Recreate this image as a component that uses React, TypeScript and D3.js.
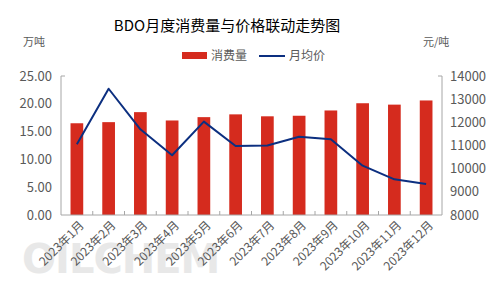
import React from "react";
import * as d3 from "d3";

const months = ["2023年1月","2023年2月","2023年3月","2023年4月","2023年5月","2023年6月","2023年7月","2023年8月","2023年9月","2023年10月","2023年11月","2023年12月"];
const consumption = [16.5, 16.7, 18.5, 17.0, 17.6, 18.1, 17.75, 17.85, 18.8, 20.1, 19.85, 20.6];
const price = [11050, 13450, 11700, 10580, 12030, 10980, 11000, 11380, 11270, 10130, 9540, 9340];
const leftTicks = [0, 5, 10, 15, 20, 25];
const rightTicks = [8000, 9000, 10000, 11000, 12000, 13000, 14000];

const W = 500, H = 285;
const L = 61, R = 442, T = 76, B = 215;
const FONT = "'Noto Sans CJK SC', 'Noto Sans', sans-serif";
const RED = "#d52b1e";
const BLUE = "#0c2f80";
const AXIS = "#a6a6a6";
const TXT = "#595959";

export default function App() {
  const x = d3.scaleBand<string>().domain(months).range([L, R]).paddingInner(0).paddingOuter(0);
  const yL = d3.scaleLinear().domain([0, 25]).range([B, T]);
  const yR = d3.scaleLinear().domain([8000, 14000]).range([B, T]);
  const bw = x.bandwidth() * 0.4;
  const line = d3.line<number>().x((_, i) => x(months[i])! + x.bandwidth() / 2).y(d => yR(d));
  return (
    <svg width={W} height={H} style={{ position: "absolute", left: 0, top: 0 }} fontFamily={FONT}>
      <rect width={W} height={H} fill="#fff" />
      <text x={22} y={273} fontSize={40} fontWeight="bold" fill="#e8e8e8" fontFamily="'DejaVu Sans', sans-serif" letterSpacing={-1}>OILCHEM</text>
      <text x={227} y={31} textAnchor="middle" fontSize={15} fill="#000">BDO月度消费量与价格联动走势图</text>
      <rect x={182} y={52} width={25} height={7} fill={RED} />
      <text x={211} y={60} fontSize={12} fill={TXT}>消费量</text>
      <line x1={259} x2={285} y1={56} y2={56} stroke={BLUE} strokeWidth={2} />
      <text x={289} y={60} fontSize={12} fill={TXT}>月均价</text>
      <text x={23} y={46} fontSize={11} fill={TXT}>万吨</text>
      <text x={423} y={46} fontSize={11} fill={TXT}>元/吨</text>
      {consumption.map((v, i) => (
        <rect key={i} x={x(months[i])! + (x.bandwidth() - bw) / 2} y={yL(v)} width={bw} height={B - yL(v)} fill={RED} />
      ))}
      <path d={line(price) || ""} fill="none" stroke={BLUE} strokeWidth={2} strokeLinejoin="round" />
      <path d={`M${L + 4},${T}H${L}V${B}H${R}V${T}H${R - 4}`} fill="none" stroke={AXIS} strokeWidth={1} />
      {months.slice(1).map(m => (
        <line key={m} x1={x(m)!} x2={x(m)!} y1={B} y2={B - 4} stroke={AXIS} />
      ))}
      {leftTicks.map(t => (
        <text key={t} x={52} y={yL(t) + 4.5} textAnchor="end" fontSize={13} fill={TXT}>{t.toFixed(2)}</text>
      ))}
      {rightTicks.map(t => (
        <text key={t} x={450} y={yR(t) + 4.5} fontSize={13} fill={TXT}>{t}</text>
      ))}
      {months.map(m => {
        const cx = x(m)! + x.bandwidth() / 2 + 5;
        const cy = B + 8;
        return (
          <text key={m} transform={`translate(${cx},${cy}) rotate(-45)`} textAnchor="end" dy="0.35em" fontSize={12} fill={TXT}>{m}</text>
        );
      })}
    </svg>
  );
}
